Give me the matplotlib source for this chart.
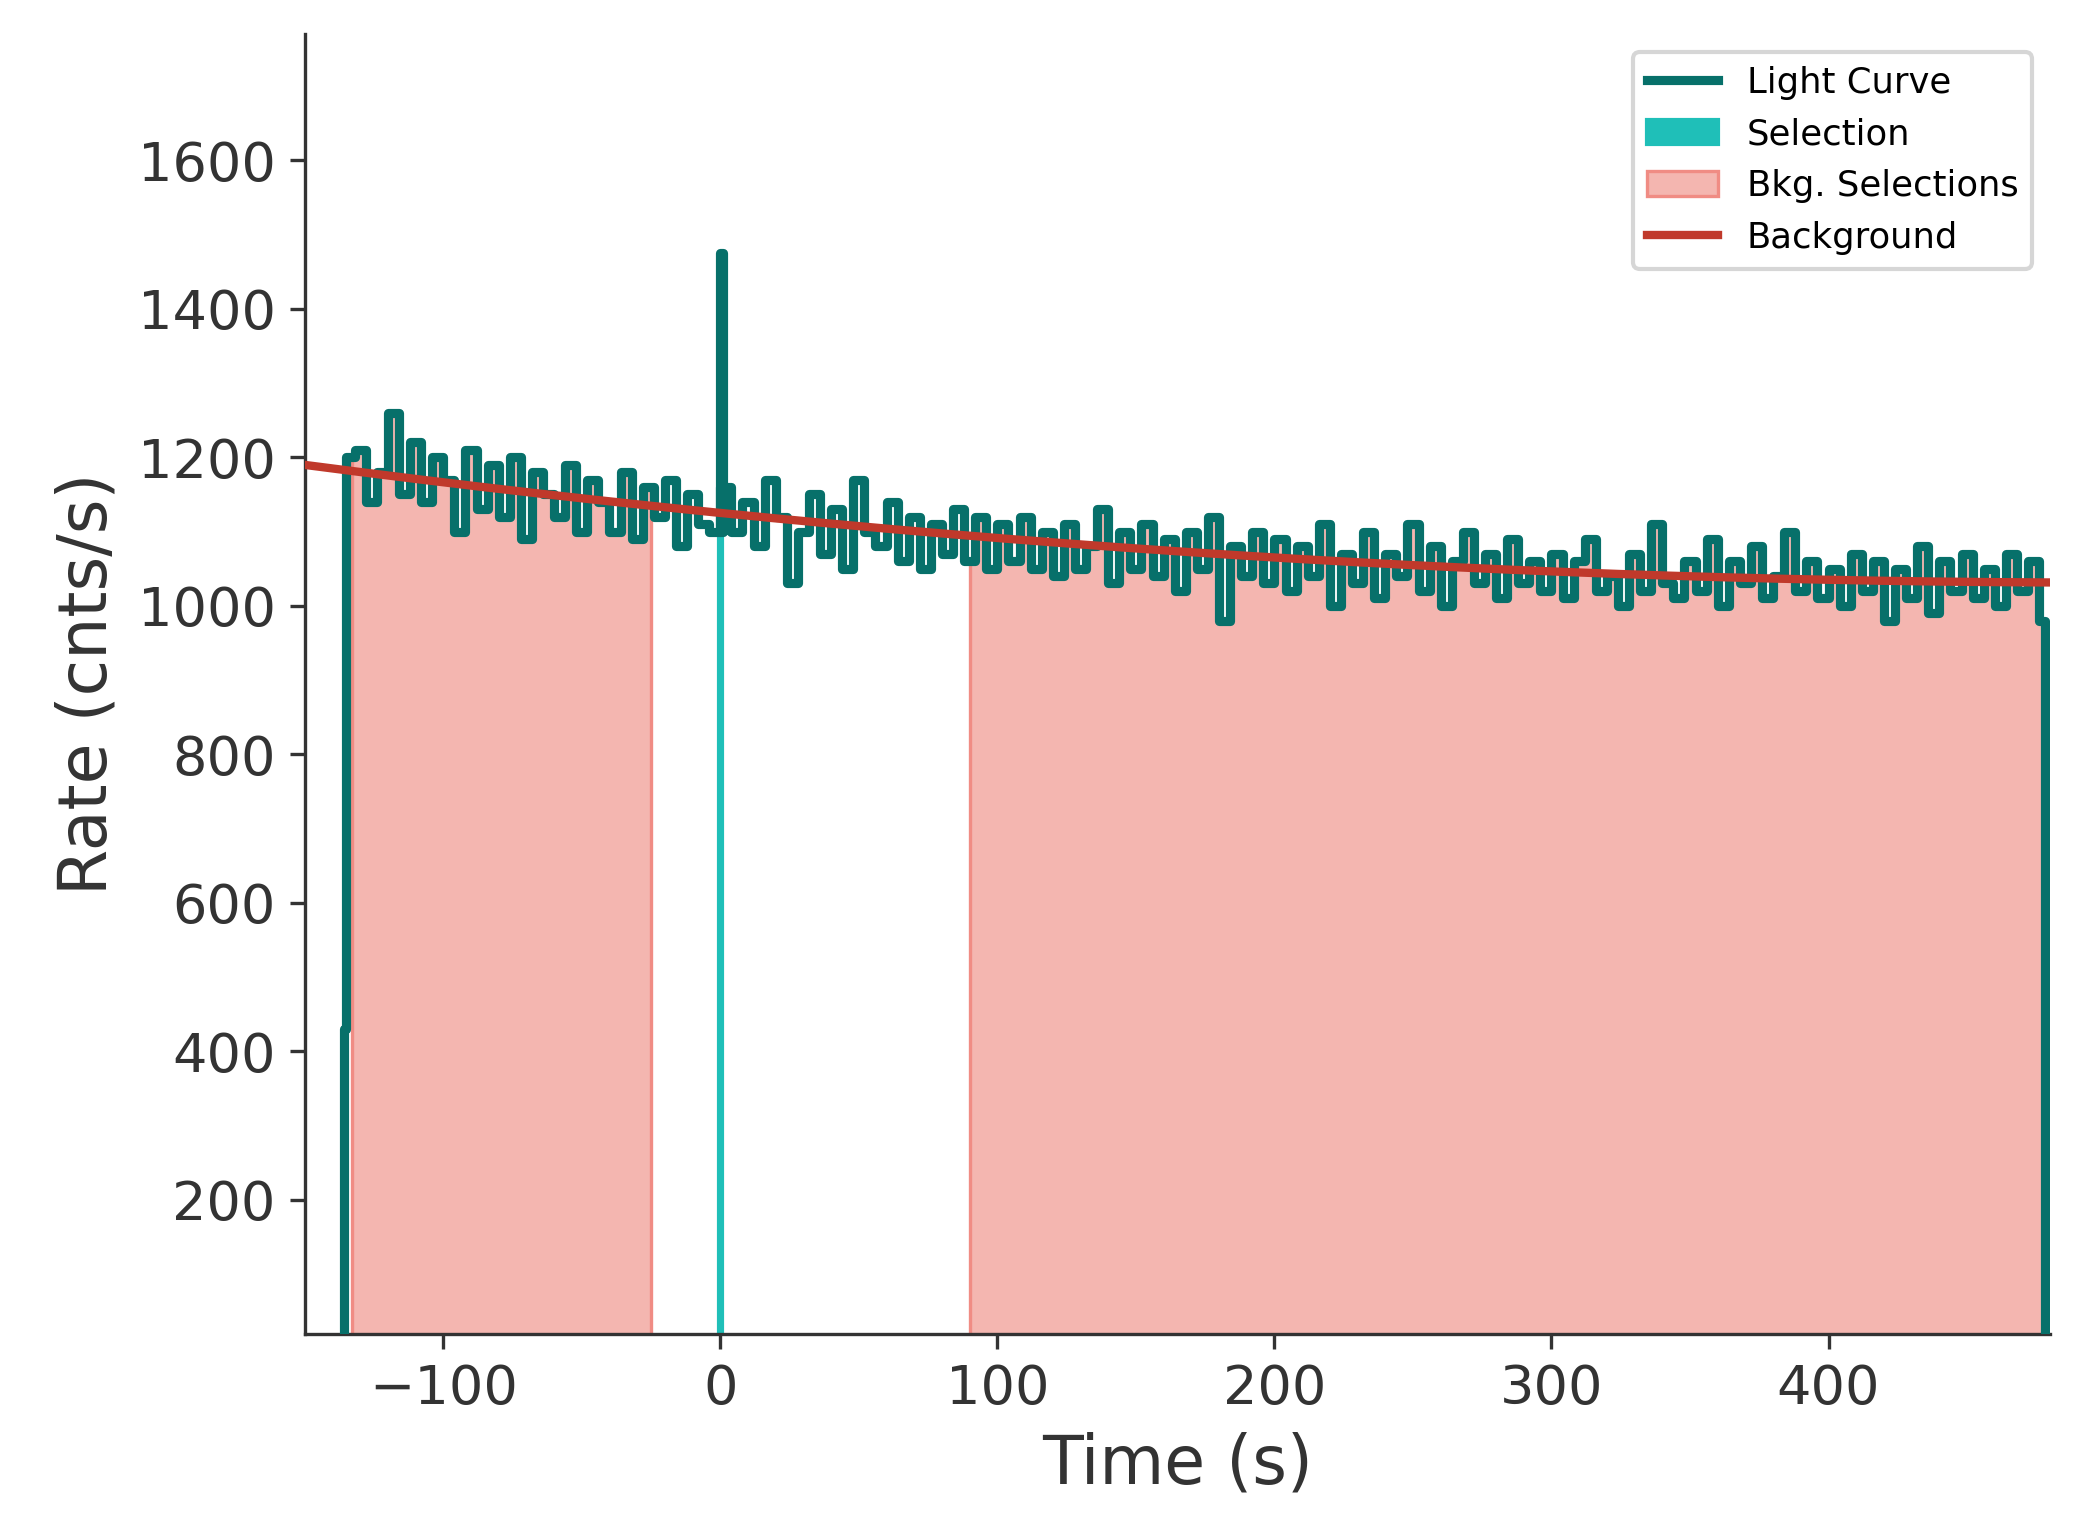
import matplotlib.pyplot as plt
import numpy as np

# light curve: 4 s bins starting at -132 s
bin_start = -132
bin_width = 4
lc_rates = [
    1210, 1140, 1180, 1260, 1150, 1220, 1140, 1200, 1170, 1100, 1210, 1130, 1190, 1120, 1200, 1090, 1180,
    1150, 1120, 1190, 1100, 1170, 1140, 1100, 1180, 1090, 1160, 1120, 1170, 1080, 1150, 1110, 1100,
    1160, 1100, 1140, 1080, 1170, 1120, 1030, 1100, 1150, 1070, 1130, 1050, 1170, 1100, 1080, 1140, 1060,
    1120, 1050, 1110, 1070, 1130, 1060, 1120, 1050,
    1110, 1060, 1120, 1050, 1100, 1040, 1110, 1050, 1080, 1130, 1030, 1100, 1050, 1110, 1040, 1090, 1020,
    1100, 1050, 1120, 980, 1080, 1040, 1100, 1030,
    1090, 1020, 1080, 1040, 1110, 1000, 1070, 1030, 1100, 1010, 1070, 1040, 1110, 1020, 1080, 1000, 1060,
    1100, 1030, 1070, 1010, 1090, 1030, 1060, 1020,
    1070, 1010, 1060, 1090, 1020, 1040, 1000, 1070, 1020, 1110, 1030, 1010, 1060, 1020, 1090, 1000, 1060,
    1030, 1080, 1010, 1040, 1100, 1020, 1060, 1010,
    1050, 1000, 1070, 1020, 1060, 980, 1050, 1010, 1080, 990, 1060, 1020, 1070, 1010, 1050, 1000, 1070,
    1020, 1060, 980,
]
lead_times = [-137, -136, -135]
lead_rates = [0, 430, 1200]
spike_time = 0
spike_rate = 1475
end_time = 478

# background polynomial (constant, linear, quadratic)
bkg_coeffs = [1125, -0.375, 3.75e-4]
bkg_windows = [(-133, -25), (90, 478)]
src_window = (-0.5, 0.5)

t = np.concatenate([lead_times, bin_start + bin_width * np.arange(len(lc_rates))])
r = np.concatenate([lead_rates, lc_rates]).astype(float)
i = np.searchsorted(t, spike_time)
t = np.insert(t, [i, i], [spike_time, spike_time + 1])
r = np.insert(r, [i, i], [spike_rate, r[i - 1]])
t = np.append(t, end_time)
r = np.append(r, 0)

def bkg(x):
    return bkg_coeffs[0] + bkg_coeffs[1] * x + bkg_coeffs[2] * x ** 2

fig, ax = plt.subplots(figsize=(2073 / 300, 1540 / 300), dpi=300)
text_col = "#333333"

for k, (a, b) in enumerate(bkg_windows):
    m = (t >= a) & (t <= b)
    tt = np.concatenate([[a], t[m], [b]])
    rr = np.concatenate([[r[t <= a][-1]], r[m], [r[m][-1]]])
    ax.fill_between(tt, 0, rr, step="post", color="#f4b6b0", edgecolor="#f08c84", lw=0.8,
                    label="Bkg. Selections" if k == 0 else None, zorder=1)
ax.fill_between([src_window[0], src_window[1]], 0, [spike_rate, spike_rate], color="#1fbfb8",
                label="Selection", zorder=2)
ax.step(t, r, where="post", color="#07706a", lw=2.2, label="Light Curve", zorder=3)
xs = np.linspace(-150, 480, 300)
ax.plot(xs, bkg(xs), color="#c0392b", lw=2, label="Background", zorder=4)

ax.set_xlim(-150, 480)
ax.set_ylim(20, 1770)
ax.set_yticks([200, 400, 600, 800, 1000, 1200, 1400, 1600])
ax.set_xlabel("Time (s)", fontsize=16, color=text_col)
ax.set_ylabel("Rate (cnts/s)", fontsize=16, color=text_col)
ax.tick_params(labelsize=13, colors=text_col, direction="out")
for s in ["top", "right"]:
    ax.spines[s].set_visible(False)
for s in ["left", "bottom"]:
    ax.spines[s].set_color(text_col)

h, l = ax.get_legend_handles_labels()
order = [l.index(x) for x in ["Light Curve", "Selection", "Bkg. Selections", "Background"]]
ax.legend([h[o] for o in order], [l[o] for o in order], fontsize=8.5, loc="upper right")
fig.subplots_adjust(left=0.147, right=0.989, top=0.978, bottom=0.134)
fig.savefig("out.png", dpi=300)
